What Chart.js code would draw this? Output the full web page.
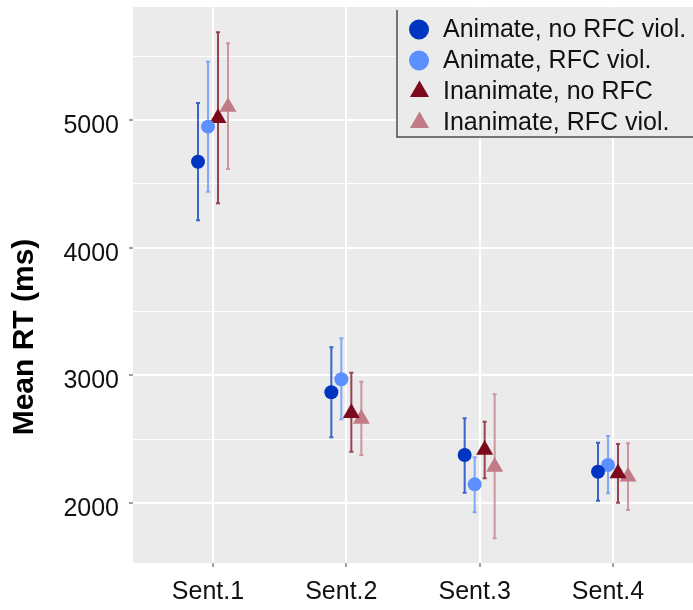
<!DOCTYPE html>
<html>
<head>
<meta charset="utf-8">
<script src="https://cdn.jsdelivr.net/npm/chart.js@4"></script>
<style>
  body { margin: 0; background: #fff; }
  canvas { display: block; }
</style>
</head>
<body>
<canvas id="rtGraph" width="693" height="610"></canvas>
<script>
const categories = ['Sent.1', 'Sent.2', 'Sent.3', 'Sent.4'];
const seriesNames = ['Animate, no RFC viol.', 'Animate, RFC viol.', 'Inanimate, no RFC', 'Inanimate, RFC viol.'];
const yTitle = 'Mean RT (ms)';
const yMajorTicks = [2000, 3000, 4000, 5000];
const yMinorTicks = [2500, 3500, 4500, 5500];

// mean RT per sentence region
const animNoViol = [4673, 2867, 2376, 2245];
const animViol = [4948, 2969, 2146, 2298];
const inanimNoViol = [5015, 2705, 2416, 2233];
const inanimViol = [5102, 2659, 2284, 2206];

// error bar ends
const animNoViolLo = [4215, 2515, 2081, 2018];
const animNoViolHi = [5133, 3220, 2663, 2472];
const animViolLo = [4438, 2656, 1927, 2076];
const animViolHi = [5457, 3290, 2358, 2525];
const inanimNoViolLo = [4347, 2402, 2193, 2002];
const inanimNoViolHi = [5687, 3021, 2637, 2462];
const inanimViolLo = [4616, 2376, 1724, 1945];
const inanimViolHi = [5601, 2950, 2851, 2467];

const means = [animNoViol, animViol, inanimNoViol, inanimViol];
const lows = [animNoViolLo, animViolLo, inanimNoViolLo, inanimViolLo];
const highs = [animNoViolHi, animViolHi, inanimNoViolHi, inanimViolHi];

const colors = ['#0035c2', '#5c90ff', '#7d0a1c', '#c07b86'];
const barColors = ['rgba(0,53,194,0.75)', 'rgba(92,144,255,0.75)', 'rgba(125,10,28,0.75)', 'rgba(192,123,134,0.75)'];
const shapes = ['circle', 'circle', 'triangle', 'triangle'];
const dodge = [-0.1125, -0.0375, 0.0375, 0.1125];

const FONT = '"Liberation Sans", Arial, Helvetica, sans-serif';

const datasets = means.map((vals, s) => ({
  label: seriesNames[s],
  data: vals.map((v, i) => ({ x: i + 1 + dodge[s], y: v })),
  backgroundColor: colors[s],
  borderColor: colors[s],
  pointStyle: shapes[s],
  pointRadius: shapes[s] === 'circle' ? 7 : 9.8,
  pointBorderWidth: 0,
  showLine: false
}));

// grey panel behind everything
const panelBg = {
  id: 'panelBg',
  beforeDraw(chart) {
    const { ctx, chartArea: a } = chart;
    ctx.save();
    ctx.fillStyle = '#ebebeb';
    ctx.fillRect(a.left, a.top, a.right - a.left, a.bottom - a.top);
    ctx.restore();
  }
};

// vertical error bars with small caps, under the points
const errorBars = {
  id: 'errorBars',
  beforeDatasetsDraw(chart) {
    const { ctx, scales: { x, y } } = chart;
    ctx.save();
    ctx.lineWidth = 2;
    means.forEach((vals, s) => {
      ctx.strokeStyle = barColors[s];
      vals.forEach((v, i) => {
        const px = x.getPixelForValue(i + 1 + dodge[s]);
        const yLo = y.getPixelForValue(lows[s][i]);
        const yHi = y.getPixelForValue(highs[s][i]);
        ctx.beginPath();
        ctx.moveTo(px, yLo);
        ctx.lineTo(px, yHi);
        ctx.moveTo(px - 2, yLo);
        ctx.lineTo(px + 2, yLo);
        ctx.moveTo(px - 2, yHi);
        ctx.lineTo(px + 2, yHi);
        ctx.stroke();
      });
    });
    ctx.restore();
  }
};

// boxed legend in the top right corner and the rotated y title
const legendBox = {
  id: 'legendBox',
  afterDraw(chart) {
    const ctx = chart.ctx;
    ctx.save();
    ctx.fillStyle = '#ebebeb';
    ctx.fillRect(397, 8, 300, 129);
    ctx.strokeStyle = '#4d4d4d';
    ctx.lineWidth = 1.5;
    ctx.beginPath();
    ctx.moveTo(397, 10);
    ctx.lineTo(397, 137);
    ctx.lineTo(700, 137);
    ctx.stroke();

    seriesNames.forEach((name, s) => {
      const cy = 29.5 + s * 31;
      ctx.fillStyle = colors[s];
      ctx.beginPath();
      if (shapes[s] === 'circle') {
        ctx.arc(419, cy, 10, 0, Math.PI * 2);
      } else {
        const r = 11;
        ctx.moveTo(419.5, cy - r);
        ctx.lineTo(419.5 + r * 0.866, cy + r / 2);
        ctx.lineTo(419.5 - r * 0.866, cy + r / 2);
        ctx.closePath();
      }
      ctx.fill();
      ctx.fillStyle = '#111';
      ctx.font = '25px ' + FONT;
      ctx.textAlign = 'left';
      ctx.textBaseline = 'middle';
      ctx.fillText(name, 443, cy + 1);
    });

    ctx.translate(25, 337);
    ctx.rotate(-Math.PI / 2);
    ctx.font = 'bold 30px ' + FONT;
    ctx.textAlign = 'center';
    ctx.textBaseline = 'middle';
    ctx.fillStyle = '#000';
    ctx.fillText(yTitle, 0, 0);
    ctx.restore();
  }
};

new Chart(document.getElementById('rtGraph'), {
  type: 'scatter',
  data: { datasets },
  plugins: [panelBg, errorBars, legendBox],
  options: {
    responsive: false,
    devicePixelRatio: 1,
    animation: false,
    layout: { autoPadding: false, padding: { top: 7, right: 0, bottom: 0, left: 0 } },
    plugins: {
      legend: { display: false },
      tooltip: { enabled: false }
    },
    scales: {
      x: {
        type: 'linear',
        min: 0.4,
        max: 4.6,
        afterFit: s => {
          s.height = 47;
          s.paddingLeft = 0;
          s.paddingRight = 0;
        },
        afterBuildTicks: s => { s.ticks = categories.map((c, i) => ({ value: i + 1 })); },
        border: { display: false },
        grid: { color: '#ffffff', lineWidth: 2, tickLength: 4, tickColor: '#444', tickWidth: 1 },
        ticks: {
          callback: v => categories[v - 1],
          font: { family: FONT, size: 25 },
          color: '#111',
          padding: 10,
          labelOffset: -5,
          maxRotation: 0,
          autoSkip: false
        }
      },
      y: {
        min: 1530,
        max: 5885,
        afterFit: s => {
          s.width = 133;
          s.paddingTop = 0;
          s.paddingBottom = 0;
        },
        afterBuildTicks: s => {
          s.ticks = yMajorTicks.concat(yMinorTicks).sort((a, b) => a - b).map(v => ({ value: v }));
        },
        border: { display: false },
        grid: {
          color: '#ffffff',
          lineWidth: c => (yMajorTicks.includes(c.tick.value) ? 2 : 1),
          tickLength: 4,
          tickWidth: 1,
          tickColor: c => (yMajorTicks.includes(c.tick.value) ? '#444' : 'rgba(0,0,0,0)')
        },
        ticks: {
          callback: v => (yMajorTicks.includes(v) ? String(v) : ''),
          font: { family: FONT, size: 25 },
          color: '#111',
          padding: 10,
          labelOffset: 6,
          autoSkip: false
        }
      }
    }
  }
});
</script>
</body>
</html>
